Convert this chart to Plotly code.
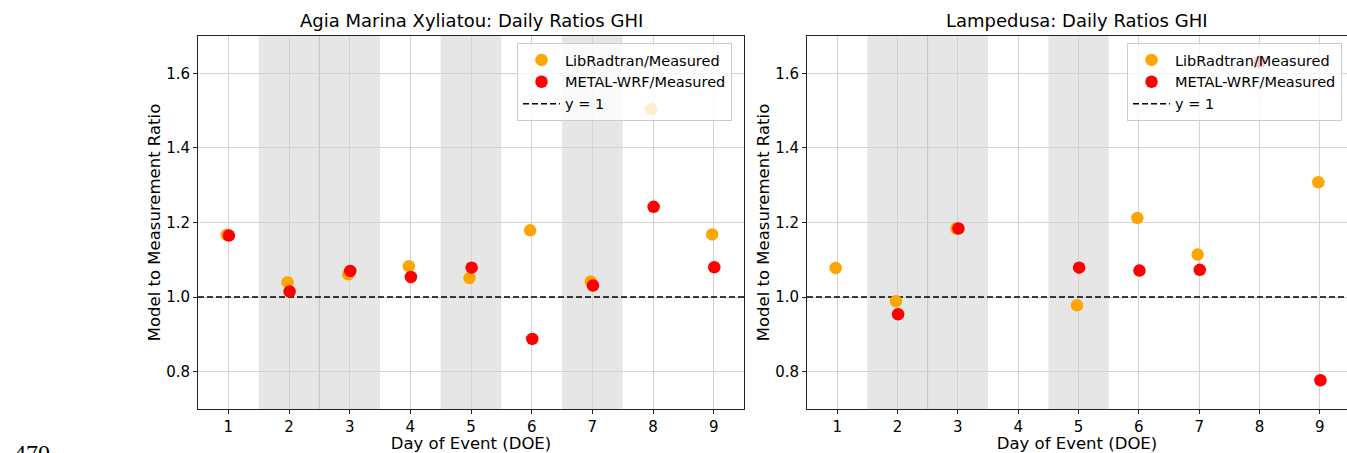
import plotly.graph_objects as go

days = [1, 2, 3, 4, 5, 6, 7, 8, 9]
x_ticks = [1, 2, 3, 4, 5, 6, 7, 8, 9]
y_ticks = [0.8, 1.0, 1.2, 1.4, 1.6]
y_tick_labels = ["0.8", "1.0", "1.2", "1.4", "1.6"]

# Agia Marina Xyliatou
agia_libradtran = [1.167, 1.040, 1.061, 1.083, 1.051, 1.179, 1.042, 1.504, 1.168]
agia_metal_wrf = [1.165, 1.015, 1.070, 1.054, 1.079, 0.888, 1.031, 1.242, 1.080]
agia_shaded = [(1.5, 2.5), (2.5, 3.5), (4.5, 5.5), (6.5, 7.5)]

# Lampedusa
lamp_libradtran = [1.078, 0.989, 1.184, None, 0.978, 1.212, 1.114, None, 1.308]
lamp_metal_wrf = [None, 0.954, 1.184, None, 1.079, 1.071, 1.073, 1.631, 0.777]
lamp_shaded = [(1.5, 2.5), (2.5, 3.5), (4.5, 5.5)]

titles = ["Agia Marina Xyliatou: Daily Ratios GHI", "Lampedusa: Daily Ratios GHI"]
series_names = ["LibRadtran/Measured", "METAL-WRF/Measured", "y = 1"]

W, H = 1347, 453
FONT = "DejaVu Sans, Arial, sans-serif"
ORANGE = "#FFA500"
RED = "#FF0000"
lib_off, met_off = -0.025, 0.01

panels = [
    dict(lib=agia_libradtran, met=agia_metal_wrf, shaded=agia_shaded,
         px=(198, 744), xr=[0.5, 9.5], legend="legend", xa="x", ya="y"),
    dict(lib=lamp_libradtran, met=lamp_metal_wrf, shaded=lamp_shaded,
         px=(807, 1347), xr=[0.5, 9.45], legend="legend2", xa="x2", ya="y2"),
]
top_px, bot_px = 36, 409
ydom = [1 - bot_px / H, 1 - top_px / H]

fig = go.Figure()
shapes = []
annotations = []
for i, p in enumerate(panels):
    xa, ya = p["xa"], p["ya"]
    # y = 1 reference line
    fig.add_trace(go.Scatter(
        x=[p["xr"][0], p["xr"][1]], y=[1, 1], mode="lines",
        line=dict(color="black", dash="6px,3px", width=1.5),
        name=series_names[2], xaxis=xa, yaxis=ya, legend=p["legend"],
        legendrank=3, hoverinfo="skip"))
    fig.add_trace(go.Scatter(
        x=[d + lib_off for d in days], y=p["lib"], mode="markers",
        marker=dict(color=ORANGE, size=12.5), name=series_names[0],
        xaxis=xa, yaxis=ya, legend=p["legend"], legendrank=1))
    fig.add_trace(go.Scatter(
        x=[d + met_off for d in days], y=p["met"], mode="markers",
        marker=dict(color=RED, size=12.5), name=series_names[1],
        xaxis=xa, yaxis=ya, legend=p["legend"], legendrank=2))
    for (a, b) in p["shaded"]:
        shapes.append(dict(type="rect", xref=xa, yref=ya + " domain", x0=a, x1=b,
                           y0=0, y1=1, fillcolor="rgba(128,128,128,0.2)",
                           line=dict(width=0), layer="below"))
    shapes.append(dict(type="line", xref=xa, yref=ya + " domain", x0=2.5, x1=2.5,
                       y0=0, y1=1, line=dict(color="rgba(170,170,170,0.6)", width=1),
                       layer="below"))
    cx = (p["px"][0] + p["px"][1]) / 2 / W
    annotations.append(dict(text=titles[i], x=cx, y=1 - 20 / H, xref="paper", yref="paper",
                            showarrow=False, font=dict(size=18, color="black", family=FONT),
                            xanchor="center", yanchor="middle"))

axis_common = dict(showline=True, mirror=True, linecolor="#222", linewidth=1,
                   ticks="outside", ticklen=4, tickcolor="#222",
                   showgrid=True, gridcolor="#d3d3d3", gridwidth=1,
                   zeroline=False, tickfont=dict(size=15, color="black", family=FONT))

layout = dict(
    width=W, height=H, margin=dict(l=0, r=0, t=0, b=0),
    plot_bgcolor="white", paper_bgcolor="white",
    font=dict(family=FONT, color="black"),
    shapes=shapes, annotations=annotations,
)
for i, p in enumerate(panels):
    sfx = "" if i == 0 else "2"
    layout["xaxis" + sfx] = dict(
        axis_common, domain=[p["px"][0] / W, min(p["px"][1] / W, 1.0)], range=p["xr"],
        tickvals=x_ticks, ticktext=[str(t) for t in x_ticks], anchor="y" + sfx,
        title=dict(text="Day of Event (DOE)", font=dict(size=16.5, color="black", family=FONT),
                   standoff=3))
    layout["yaxis" + sfx] = dict(
        axis_common, domain=ydom, range=[0.7, 1.7], anchor="x" + sfx,
        tickvals=y_ticks, ticktext=y_tick_labels,
        title=dict(text="Model to Measurement Ratio", font=dict(size=16.5, color="black", family=FONT),
                   standoff=1))

leg_common = dict(bgcolor="rgba(255,255,255,0.8)", bordercolor="#cccccc", borderwidth=1,
                  font=dict(size=14.5, color="black", family=FONT),
                  xanchor="left", yanchor="top", itemwidth=37, tracegroupgap=0)
layout["legend"] = dict(leg_common, x=517 / W, y=1 - 43 / H)
layout["legend2"] = dict(leg_common, x=1127 / W, y=1 - 43 / H)
layout["showlegend"] = True

fig.update_layout(**layout)

# stray page number from the source document
fig.add_annotation(text="470", x=12 / W, y=1 - 438 / H, xref="paper", yref="paper",
                   showarrow=False, xanchor="left", yanchor="top",
                   font=dict(size=24, color="black", family="Liberation Serif, serif"))

fig.write_html("out.html")
